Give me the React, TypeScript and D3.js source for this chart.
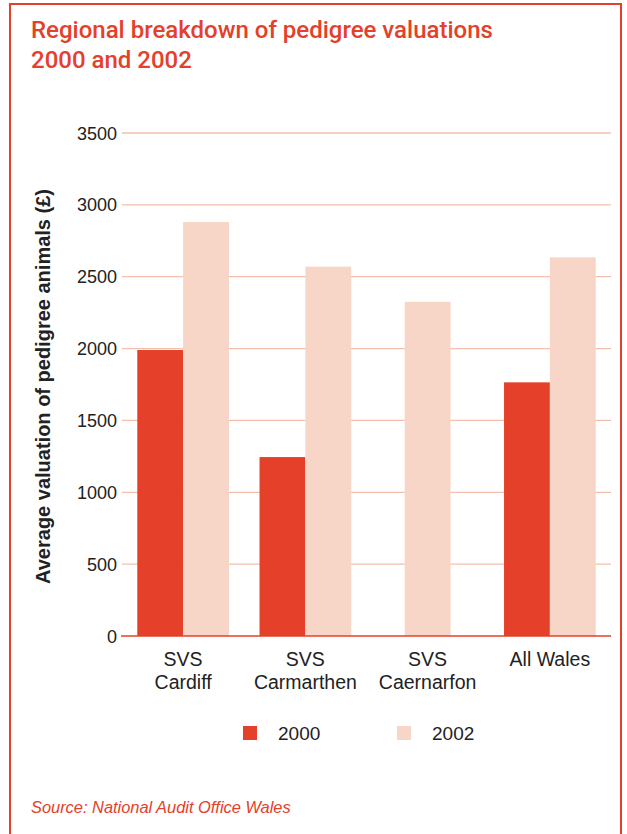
import React from "react";
import * as d3 from "d3";

const categories: string[][] = [["SVS", "Cardiff"], ["SVS", "Carmarthen"], ["SVS", "Caernarfon"], ["All Wales"]];
const categoryKeys = ["SVS Cardiff", "SVS Carmarthen", "SVS Caernarfon", "All Wales"];
const seriesNames = ["2000", "2002"];
const values2000: (number | null)[] = [1990, 1245, null, 1765];
const values2002: (number | null)[] = [2880, 2570, 2325, 2635];
const yTicks = [0, 500, 1000, 1500, 2000, 2500, 3000, 3500];
const colors = ["#e4402a", "#f7d5c7"];

const RED = "#e4402a";
const FONT = "'Liberation Sans', Arial, sans-serif";
const TFONT = "Roboto, 'Liberation Sans', sans-serif";

export default function App() {
  const W = 627, H = 834;
  const left = 122, right = 611, top = 133, bottom = 636;
  const y = d3.scaleLinear().domain([0, 3500]).range([bottom, top]);
  const x0 = d3.scaleBand<string>().domain(categoryKeys).range([left, right]).paddingInner(0.25).paddingOuter(0.125);
  const x1 = d3.scaleBand<string>().domain(seriesNames).range([0, x0.bandwidth()]);
  const series = [values2000, values2002];

  const bars: React.ReactNode[] = [];
  categoryKeys.forEach((cat, ci) => {
    const present = seriesNames.filter((_, si) => series[si][ci] != null);
    seriesNames.forEach((s, si) => {
      const v = series[si][ci];
      if (v == null) return;
      let bx = (x0(cat) as number) + (x1(s) as number);
      if (present.length === 1) bx = (x0(cat) as number) + (x0.bandwidth() - x1.bandwidth()) / 2;
      bars.push(
        <rect key={cat + s} x={bx} y={y(v)} width={x1.bandwidth()} height={y(0) - y(v)} fill={colors[si]} />
      );
    });
  });

  return (
    <svg width={W} height={H} style={{ position: "absolute", left: 0, top: 0, background: "#fff" }}>
      <rect x={0} y={0} width={W} height={H} fill="#fff" />
      <rect x={10} y={4} width={611} height={H + 10} fill="none" stroke={RED} strokeWidth={2} />
      <text x={31} y={38} fill={RED} fontFamily={TFONT} fontSize={24} fontWeight={500}>Regional breakdown of pedigree valuations</text>
      <text x={31} y={68} fill={RED} fontFamily={TFONT} fontSize={24} fontWeight={500}>2000 and 2002</text>

      {yTicks.filter(t => t > 0).map(t => (
        <line key={t} x1={left} x2={right} y1={y(t)} y2={y(t)} stroke="#f5bfab" strokeWidth={1.3} />
      ))}
      {bars}
      <line x1={left - 1} x2={right} y1={y(0)} y2={y(0)} stroke={RED} strokeWidth={1.5} />
      {yTicks.map(t => (
        <text key={t} x={117} y={y(t) + 6.5} textAnchor="end" fontFamily={FONT} fontSize={18} fill="#222">{t}</text>
      ))}
      <text transform={`translate(50,${(top + bottom) / 2 + 2}) rotate(-90)`} textAnchor="middle" fontFamily={FONT} fontSize={20} fontWeight="bold" fill="#222">
        Average valuation of pedigree animals (£)
      </text>
      {categoryKeys.map((cat, ci) => (
        <text key={cat} textAnchor="middle" fontFamily={FONT} fontSize={19.5} fill="#222">
          {categories[ci].map((line, li) => (
            <tspan key={li} x={(x0(cat) as number) + x0.bandwidth() / 2} y={666 + li * 23}>{line}</tspan>
          ))}
        </text>
      ))}
      {seriesNames.map((s, si) => (
        <g key={s} transform={`translate(${243 + si * 154},726)`}>
          <rect x={0} y={0} width={14} height={14} fill={colors[si]} />
          <text x={35} y={14} fontFamily={FONT} fontSize={19} fill="#222">{s}</text>
        </g>
      ))}
      <text x={31} y={813} fill={RED} fontFamily={FONT} fontSize={16.4} fontStyle="italic">Source: National Audit Office Wales</text>
    </svg>
  );
}
